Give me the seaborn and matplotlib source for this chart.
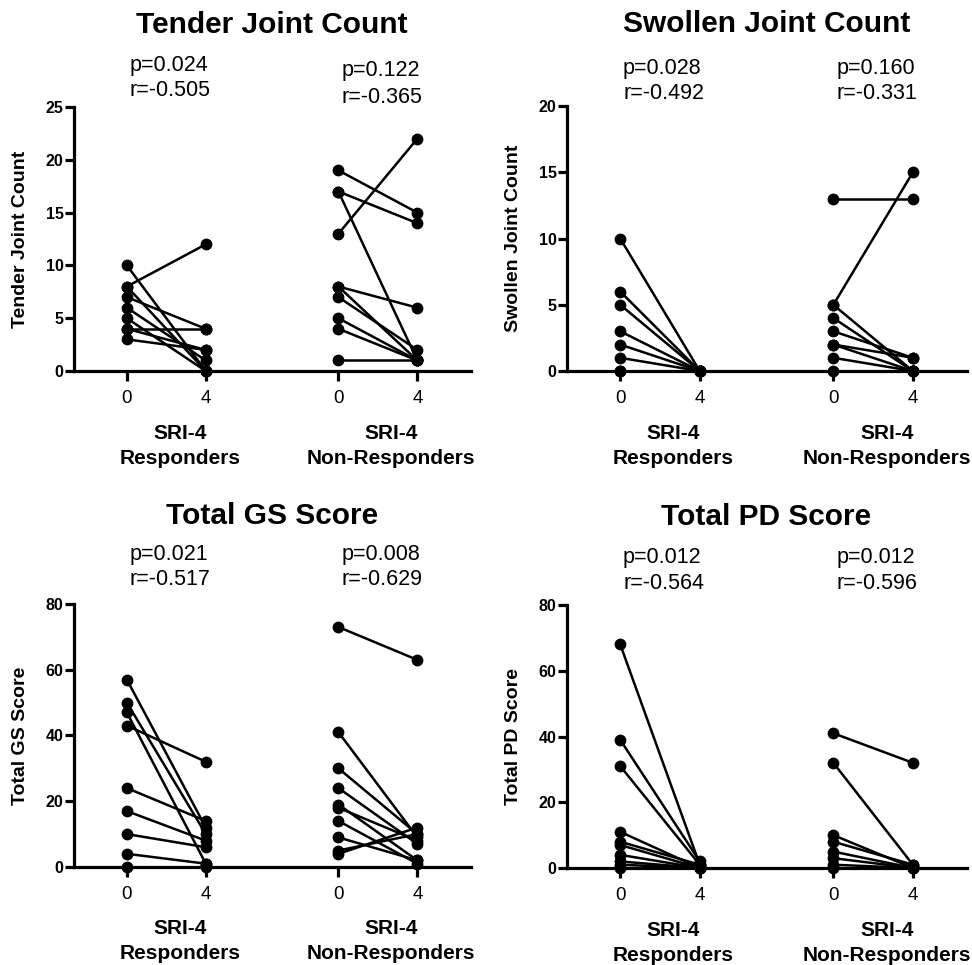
import numpy as np
import pandas as pd
import matplotlib
matplotlib.use("Agg")
import matplotlib.pyplot as plt
import seaborn as sns

sns.set_style("ticks")
plt.rcParams['font.family'] = ['Liberation Sans', 'DejaVu Sans']
for key in ["text.color", "axes.edgecolor", "axes.labelcolor", "xtick.color", "ytick.color"]:
    plt.rcParams[key] = "black"

# ---------------------------------------------------------------- data
weeks = ["0", "4"]
group_top = ["SRI-4", "SRI-4"]
group_bottom = ["Responders", "Non-Responders"]

# Tender joint count
tjc_resp_w0 = [10, 8, 8, 7, 6, 5, 4, 4, 3]
tjc_resp_w4 = [0, 12, 0, 4, 1, 0, 4, 2, 2]
tjc_nonr_w0 = [19, 17, 17, 13, 8, 8, 7, 5, 4, 1]
tjc_nonr_w4 = [15, 14, 1, 22, 6, 1, 2, 1, 1, 1]
tjc_stats = [("p=0.024", "r=-0.505"), ("p=0.122", "r=-0.365")]

# Swollen joint count
sjc_resp_w0 = [10, 6, 5, 3, 2, 1, 0, 0]
sjc_resp_w4 = [0, 0, 0, 0, 0, 0, 0, 0]
sjc_nonr_w0 = [13, 5, 5, 4, 3, 2, 2, 1, 0]
sjc_nonr_w4 = [13, 15, 0, 0, 1, 0, 1, 0, 0]
sjc_stats = [("p=0.028", "r=-0.492"), ("p=0.160", "r=-0.331")]

# Total GS score
gs_resp_w0 = [57, 50, 47, 43, 24, 17, 10, 4, 0]
gs_resp_w4 = [12, 10, 1, 32, 14, 8, 6, 1, 0]
gs_nonr_w0 = [73, 41, 30, 24, 19, 18, 14, 9, 5, 4]
gs_nonr_w4 = [63, 9, 10, 7, 2, 8, 1, 2, 10, 12]
gs_stats = [("p=0.021", "r=-0.517"), ("p=0.008", "r=-0.629")]

# Total PD score
pd_resp_w0 = [68, 39, 31, 11, 8, 7, 4, 2, 1, 0]
pd_resp_w4 = [1, 2, 1, 0, 1, 0, 0, 0, 0, 0]
pd_nonr_w0 = [41, 32, 10, 8, 5, 3, 1, 0]
pd_nonr_w4 = [32, 1, 0, 1, 0, 0, 0, 0]
pd_stats = [("p=0.012", "r=-0.564"), ("p=0.012", "r=-0.596")]

# x position of week 0 for each group (week 4 sits one unit right)
group_x = [0.0, 2.68]

PX = 0.72  # points per pixel at dpi 100


def draw_panel(ax, title, ylabel, ymax, step, resp, nonr, stats, stat_px, title_px):
    rows = []
    for gi, (w0, w4) in enumerate([resp, nonr]):
        for i, (a, b) in enumerate(zip(w0, w4)):
            rows.append({"subject": f"{gi}-{i}", "x": group_x[gi], "value": a})
            rows.append({"subject": f"{gi}-{i}", "x": group_x[gi] + 1, "value": b})
    df = pd.DataFrame(rows)

    sns.lineplot(data=df, x="x", y="value", units="subject", estimator=None,
                 color="black", marker="o", markersize=8.5, markeredgewidth=0,
                 linewidth=1.8, ax=ax, legend=False)
    for ln in ax.lines:
        ln.set_clip_on(False)

    ax.set_xlim(-0.67, 4.36)
    ax.set_ylim(0, ymax)
    ax.set_yticks(np.arange(0, ymax + 1, step))
    ax.set_xticks([group_x[0], group_x[0] + 1, group_x[1], group_x[1] + 1])
    ax.set_xticklabels(weeks * 2)
    sns.despine(ax=ax)
    for s in ["left", "bottom"]:
        ax.spines[s].set_linewidth(2.3)
    ax.spines["left"].set_bounds(0, ymax)
    ax.tick_params(axis="x", length=7, width=2.3, labelsize=13.5, pad=7)
    ax.tick_params(axis="y", length=6.5, width=2.3, labelsize=11.5, pad=1)
    for lab in ax.get_yticklabels():
        lab.set_fontweight("bold")

    ax.set_xlabel("")
    ax.set_ylabel(ylabel, fontsize=14, fontweight="bold")
    w_px = ax.get_position().width * 972
    ax.yaxis.set_label_coords(-45 / w_px, 0.5)

    mid = (group_x[0] + group_x[1] + 1) / 2
    ax.annotate(title, xy=(mid, 1), xycoords=("data", "axes fraction"),
                xytext=(0, title_px * PX), textcoords="offset points",
                ha="center", va="center", fontsize=21.5, fontweight="bold")

    for gi in range(2):
        cx = group_x[gi] + 0.5 + 0.17
        ax.annotate(group_top[gi], xy=(cx, 0), xycoords=("data", "axes fraction"),
                    xytext=(0, -62 * PX), textcoords="offset points",
                    ha="center", va="center", fontsize=15, fontweight="bold")
        ax.annotate(group_bottom[gi], xy=(cx, 0), xycoords=("data", "axes fraction"),
                    xytext=(0, -87 * PX), textcoords="offset points",
                    ha="center", va="center", fontsize=15, fontweight="bold")
        p_off, r_off = stat_px[gi]
        for txt, off in zip(stats[gi], (p_off, r_off)):
            ax.annotate(txt, xy=(group_x[gi], 1), xycoords=("data", "axes fraction"),
                        xytext=(2, off * PX), textcoords="offset points",
                        ha="left", va="center", fontsize=15.5)


fig = plt.figure(figsize=(9.72, 9.65), dpi=100)
ax1 = fig.add_axes([0.0761, 0.6155, 0.4085, 0.2736])
ax2 = fig.add_axes([0.5833, 0.6155, 0.4115, 0.2746])
ax3 = fig.add_axes([0.0761, 0.1016, 0.4085, 0.2725])
ax4 = fig.add_axes([0.5833, 0.1005, 0.4115, 0.2725])

draw_panel(ax1, "Tender Joint Count", "Tender Joint Count", 25, 5,
           (tjc_resp_w0, tjc_resp_w4), (tjc_nonr_w0, tjc_nonr_w4),
           tjc_stats, [(42, 17), (37, 10)], 82)
draw_panel(ax2, "Swollen Joint Count", "Swollen Joint Count", 20, 5,
           (sjc_resp_w0, sjc_resp_w4), (sjc_nonr_w0, sjc_nonr_w4),
           sjc_stats, [(38, 13), (38, 13)], 82)
draw_panel(ax3, "Total GS Score", "Total GS Score", 80, 20,
           (gs_resp_w0, gs_resp_w4), (gs_nonr_w0, gs_nonr_w4),
           gs_stats, [(49, 24), (49, 24)], 88)
draw_panel(ax4, "Total PD Score", "Total PD Score", 80, 20,
           (pd_resp_w0, pd_resp_w4), (pd_nonr_w0, pd_nonr_w4),
           pd_stats, [(48, 22), (48, 22)], 88)

fig.savefig("out.png", dpi=100)
